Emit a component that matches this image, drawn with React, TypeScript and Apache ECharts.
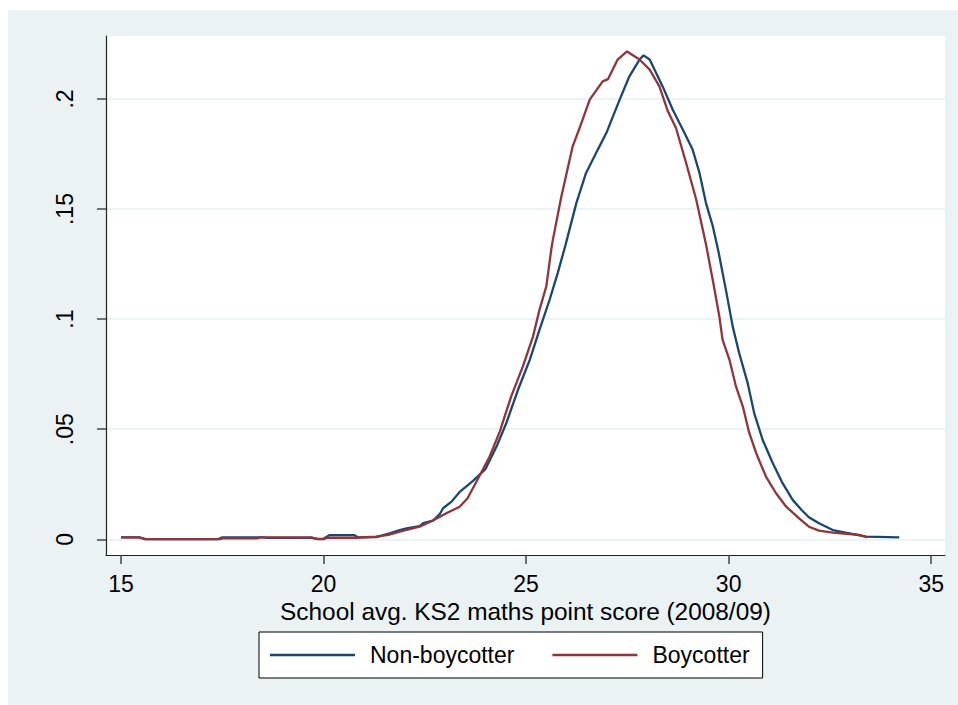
import React, { useEffect, useRef } from "react";
import * as echarts from "echarts";

const xTicks = [15, 20, 25, 30, 35];
const yTicks = [0, 0.05, 0.1, 0.15, 0.2];

const nonBoycotter: [number, number][] = [
  [15.0, 0.0009], [15.45, 0.0009], [15.6, 0.0001], [17.4, 0.0001], [17.5, 0.0009],
  [18.5, 0.0009], [18.6, 0.0006], [19.7, 0.0006], [19.85, 0.0002], [20.0, 0.0003],
  [20.15, 0.0019], [20.75, 0.0019], [20.85, 0.0009], [21.3, 0.001], [21.63, 0.0027],
  [21.88, 0.0042], [22.05, 0.005], [22.37, 0.006], [22.46, 0.0073], [22.7, 0.0085],
  [22.87, 0.0115], [22.95, 0.0141], [23.16, 0.0171], [23.36, 0.0215], [23.69, 0.0265],
  [24.0, 0.032], [24.27, 0.0421], [24.51, 0.0527], [24.8, 0.0679], [25.09, 0.0815],
  [25.33, 0.0951], [25.58, 0.1088], [25.78, 0.1209], [25.97, 0.1335], [26.24, 0.1527],
  [26.48, 0.1664], [26.77, 0.177], [26.98, 0.1845], [27.31, 0.1997], [27.55, 0.2103],
  [27.8, 0.2179], [27.9, 0.2198], [28.05, 0.2179], [28.37, 0.2057], [28.62, 0.1951],
  [28.87, 0.186], [29.11, 0.177], [29.28, 0.1664], [29.44, 0.1527], [29.61, 0.1421],
  [29.75, 0.1305], [29.94, 0.1125], [30.1, 0.0966], [30.26, 0.0845], [30.47, 0.0709],
  [30.63, 0.0573], [30.84, 0.0451], [31.09, 0.0345], [31.33, 0.0255], [31.58, 0.0179],
  [31.8, 0.0133], [31.98, 0.01], [32.23, 0.0073], [32.57, 0.0042], [32.98, 0.0027],
  [33.39, 0.0012], [34.21, 0.0009],
];

const boycotter: [number, number][] = [
  [15.0, 0.0009], [15.45, 0.0009], [15.6, 0.0001], [17.45, 0.0001], [17.5, 0.0004],
  [18.35, 0.0004], [18.45, 0.0009], [19.7, 0.0009], [19.85, 0.0001], [20.0, 0.0001],
  [20.1, 0.0007], [20.8, 0.0007], [21.3, 0.0012], [21.6, 0.002], [21.88, 0.0035],
  [22.37, 0.0057], [22.7, 0.0085], [23.03, 0.0118], [23.36, 0.0148], [23.55, 0.0185],
  [23.77, 0.026], [24.1, 0.0376], [24.35, 0.0489], [24.63, 0.0648], [24.92, 0.0785],
  [25.17, 0.0921], [25.33, 0.1042], [25.5, 0.115], [25.62, 0.1315], [25.66, 0.136],
  [25.87, 0.1557], [26.15, 0.1785], [26.32, 0.1868], [26.57, 0.1997], [26.89, 0.208],
  [27.02, 0.209], [27.26, 0.2179], [27.49, 0.2216], [27.8, 0.2179], [28.05, 0.2133],
  [28.29, 0.2057], [28.5, 0.1944], [28.7, 0.1868], [28.95, 0.1709], [29.2, 0.1542],
  [29.44, 0.134], [29.62, 0.1165], [29.77, 0.1012], [29.85, 0.0906], [30.02, 0.0815],
  [30.18, 0.0694], [30.35, 0.0603], [30.51, 0.0482], [30.68, 0.0391], [30.92, 0.0285],
  [31.17, 0.0209], [31.42, 0.0148], [31.74, 0.0095], [31.98, 0.0057], [32.23, 0.0039],
  [32.57, 0.003], [32.98, 0.0024], [33.22, 0.002], [33.43, 0.0009],
];

const FONT = "'Liberation Sans', Arial, sans-serif";

export default function App() {
  const ref = useRef<HTMLDivElement>(null);
  useEffect(() => {
    if (!ref.current) return;
    const chart = echarts.init(ref.current, null, { renderer: "svg" });
    chart.setOption({
      animation: false,
      backgroundColor: "#EAF2F3",
      textStyle: { fontFamily: FONT },
      grid: {
        left: 98,
        top: 26,
        right: 13,
        bottom: 150,
        show: true,
        backgroundColor: "#ffffff",
        borderWidth: 0,
      },
      xAxis: {
        type: "value",
        min: 14.63,
        max: 35.34,
        name: "School avg. KS2 maths point score (2008/09)",
        nameLocation: "middle",
        nameGap: 37,
        nameTextStyle: { fontSize: 24.4, color: "#000", fontFamily: FONT },
        axisLine: { onZero: false, lineStyle: { color: "#222", width: 1.2 } },
        axisTick: { customValues: xTicks, length: 9, lineStyle: { color: "#444", width: 1.5 } },
        axisLabel: {
          customValues: xTicks,
          margin: 17,
          fontSize: 23,
          color: "#000",
          fontFamily: FONT,
        },
        splitLine: { show: false },
      },
      yAxis: {
        type: "value",
        min: -0.00714,
        max: 0.2286,
        axisLine: { show: true, onZero: false, lineStyle: { color: "#222", width: 1.2 } },
        axisTick: { show: true, customValues: yTicks, length: 9, lineStyle: { color: "#444", width: 1.5 } },
        axisLabel: {
          customValues: yTicks,
          rotate: 90,
          margin: 30,
          fontSize: 23,
          color: "#000",
          fontFamily: FONT,
          formatter: (v: number) => (v === 0 ? "0" : String(+v.toFixed(2)).replace(/^0\./, ".")),
        },
        splitLine: { show: true, lineStyle: { color: "#E6EFF1", width: 1.5 } },
      },
      legend: {
        left: 251,
        top: 622,
        orient: "horizontal",
        backgroundColor: "#ffffff",
        borderColor: "#000",
        borderWidth: 1,
        borderRadius: 0,
        padding: [11.5, 13, 11.5, 11],
        icon: "rect",
        itemWidth: 85,
        itemHeight: 2.4,
        itemGap: 38,
        textStyle: { fontSize: 23, color: "#000", fontFamily: FONT, padding: [0, 0, 0, 10] },
        data: ["Non-boycotter", "Boycotter"],
      },
      series: [
        {
          name: "Non-boycotter",
          type: "line",
          data: nonBoycotter,
          symbol: "none",
          showSymbol: false,
          lineStyle: { color: "#1A476F", width: 2.3 },
          itemStyle: { color: "#1A476F" },
          z: 3,
        },
        {
          name: "Boycotter",
          type: "line",
          data: boycotter,
          symbol: "none",
          showSymbol: false,
          lineStyle: { color: "#90353B", width: 2.3 },
          itemStyle: { color: "#90353B" },
          z: 4,
        },
      ],
    });
    return () => chart.dispose();
  }, []);
  return (
    <div
      ref={ref}
      style={{ position: "absolute", left: 8, top: 10, width: 950, height: 695 }}
    />
  );
}
